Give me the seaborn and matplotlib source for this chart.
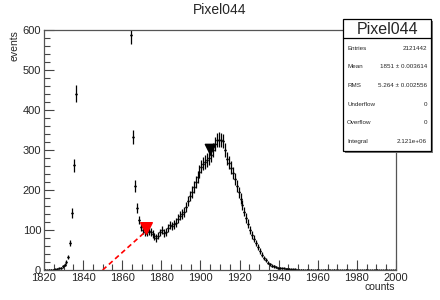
import numpy as np
import pandas as pd
import matplotlib
matplotlib.use('Agg')
import matplotlib.pyplot as plt
from matplotlib.ticker import MultipleLocator
import seaborn as sns

# bins of width 1 starting at these edges; bins 1837-1863 are far above the y range
left_edges = list(range(1820, 1837))
left_counts = [1, 0, 1, 1, 1, 2, 3, 4, 6, 9, 13, 20, 32, 68, 142, 262, 441]

right_edges = list(range(1864, 2000))
right_counts = [588, 332, 210, 155, 125, 108, 100, 96, 94, 97,
                95, 90, 84, 80, 86, 94, 99, 92, 95, 104,
                112, 110, 114, 118, 128, 136, 140, 145, 158, 172,
                185, 195, 208, 220, 232, 246, 258, 266, 270, 275,
                280, 288, 300, 315, 325, 326, 325, 322, 300, 278,
                268, 256, 242, 228, 210, 194, 178, 162, 146, 130,
                116, 100, 88, 78, 68, 57, 47, 38, 30, 24,
                18, 14, 11, 9, 7, 6, 5, 4, 4, 3,
                3, 3, 2, 2, 2, 1, 1, 1, 1, 0,
                1, 0, 1, 0, 0, 1, 0, 0, 0, 1,
                0, 0, 0, 0, 1, 0, 0, 0, 0, 0,
                1, 0, 0, 0, 0, 0, 0, 0, 0, 0,
                1, 0, 0, 0, 0, 0, 1, 0, 0, 0,
                0, 0, 0, 0, 0, 0]

red_line_x = [1850, 1871]
red_line_y = [0, 92]
red_mark = (1872, 104)
black_mark = (1905, 302)

stat_names = ['Entries', 'Mean', 'RMS', 'Underflow', 'Overflow', 'Integral']
stat_values = ['2121442', '1851 \u00b1 0.003614', '5.264 \u00b1 0.002556', '0', '0', '2.121e+06']

df = pd.DataFrame({'edge': left_edges + right_edges,
                   'count': left_counts + right_counts})
df['center'] = df['edge'] + 0.5
df['err'] = np.sqrt(df['count'])

sns.set_style('white')
plt.rcParams['font.family'] = ['Liberation Sans', 'DejaVu Sans']

fig = plt.figure(figsize=(4.4, 3.0), dpi=100)
ax = fig.add_axes([0.1, 0.1, 0.8, 0.8])

ax.errorbar(df['center'], df['count'], xerr=0.5, yerr=df['err'], fmt='none',
            ecolor='black', elinewidth=0.9, capsize=0)
sns.scatterplot(data=df, x='center', y='count', ax=ax, s=2, color='black',
                edgecolor=None, legend=False)

sns.lineplot(x=red_line_x, y=red_line_y, ax=ax, color='red', linestyle=(0, (3, 2)),
             linewidth=1.2)
ax.scatter([red_mark[0]], [red_mark[1]], marker='v', s=70, color='red', zorder=5)
ax.scatter([black_mark[0]], [black_mark[1]], marker='v', s=55, color='black', zorder=5)

ax.set_xlim(1820, 2000)
ax.set_ylim(0, 600)
ax.xaxis.set_major_locator(MultipleLocator(20))
ax.xaxis.set_minor_locator(MultipleLocator(5))
ax.yaxis.set_major_locator(MultipleLocator(100))
ax.yaxis.set_minor_locator(MultipleLocator(20))
ax.tick_params(axis='both', which='both', direction='in', labelsize=8, pad=2,
               bottom=True, left=True, top=False, right=False, color='#444444')
ax.tick_params(axis='both', which='major', length=7, width=0.8)
ax.tick_params(axis='both', which='minor', length=4, width=0.8)
ax.tick_params(axis='x', which='major', pad=2.5)
ax.set_xlabel('')
ax.set_ylabel('')
for s in ax.spines.values():
    s.set_color('#555555')
    s.set_linewidth(0.9)

fig.text(0.5, 0.967, 'Pixel044', ha='center', va='center', fontsize=10)
fig.text(0.898, 0.043, 'counts', ha='right', va='center', fontsize=7.5)
fig.text(0.034, 0.9, 'events', ha='center', va='top', rotation=90, fontsize=7.5)

# stats box
bx0, bx1, by0, by1 = 0.78, 0.98, 0.497, 0.937
fig.patches.append(plt.Rectangle((bx0 + 0.004, by0 - 0.006), bx1 - bx0, by1 - by0,
                                 transform=fig.transFigure, facecolor='#777777',
                                 edgecolor='none', zorder=9))
fig.patches.append(plt.Rectangle((bx0, by0), bx1 - bx0, by1 - by0,
                                 transform=fig.transFigure, facecolor='white',
                                 edgecolor='black', linewidth=0.9, zorder=10))
fig.lines.append(plt.Line2D([bx0, bx1], [0.873, 0.873], transform=fig.transFigure,
                            color='black', linewidth=0.9, zorder=11))
fig.text((bx0 + bx1) / 2, 0.903, 'Pixel044', ha='center', va='center', fontsize=11.5,
         zorder=12)
for i, (n, v) in enumerate(zip(stat_names, stat_values)):
    yy = 0.84 - i * 0.0625
    fig.text(bx0 + 0.009, yy, n, ha='left', va='center', fontsize=4.5, zorder=12)
    fig.text(bx1 - 0.01, yy, v, ha='right', va='center', fontsize=4.5, zorder=12)

fig.savefig('out.png', dpi=100)
